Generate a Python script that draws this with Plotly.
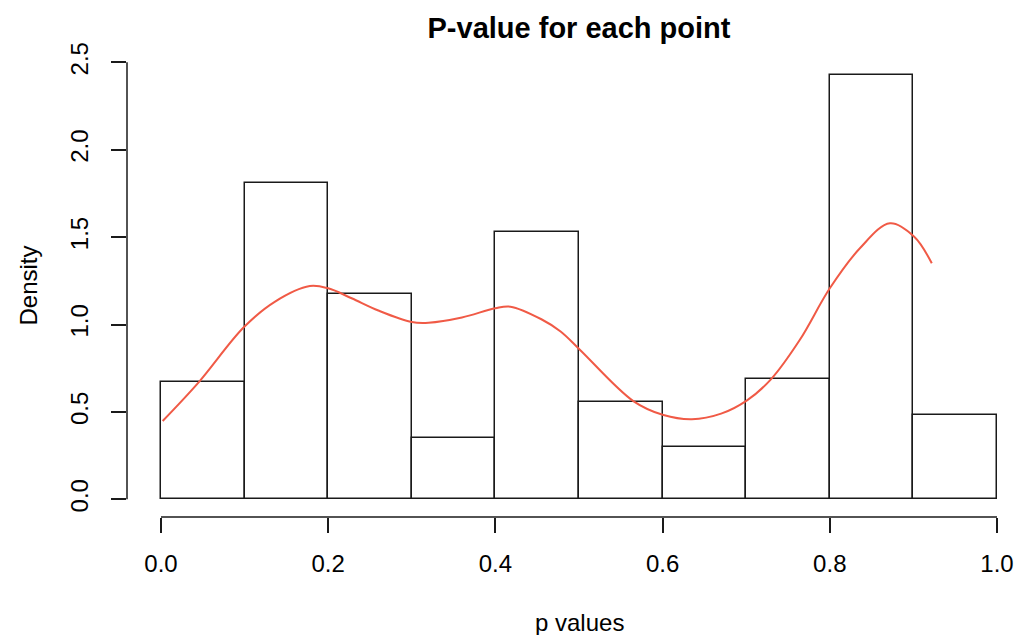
import plotly.graph_objects as go

# Histogram bins (p-value intervals) and their densities
bin_left = [0.0, 0.1, 0.2, 0.3, 0.4, 0.5, 0.6, 0.7, 0.8, 0.9]
bin_width = 0.1
density = [0.669, 1.808, 1.175, 0.352, 1.527, 0.558, 0.297, 0.688, 2.427, 0.482]

# Kernel density estimate curve (x, y)
kde_x = [0.002, 0.045, 0.099, 0.136, 0.178, 0.200, 0.228, 0.260, 0.300, 0.320,
         0.360, 0.400, 0.418, 0.455, 0.478, 0.501, 0.565, 0.601, 0.635, 0.670,
         0.701, 0.729, 0.764, 0.800, 0.836, 0.872, 0.901, 0.922]
kde_y = [0.448, 0.669, 0.984, 1.130, 1.220, 1.207, 1.150, 1.080, 1.014, 1.010,
         1.040, 1.093, 1.102, 1.030, 0.960, 0.856, 0.562, 0.482, 0.458, 0.490,
         0.566, 0.683, 0.911, 1.207, 1.436, 1.579, 1.502, 1.350]

x_ticks = [0.0, 0.2, 0.4, 0.6, 0.8, 1.0]
x_tick_text = ["0.0", "0.2", "0.4", "0.6", "0.8", "1.0"]
y_ticks = [0.0, 0.5, 1.0, 1.5, 2.0, 2.5]
y_tick_text = ["0.0", "0.5", "1.0", "1.5", "2.0", "2.5"]

FONT = "Liberation Sans, Arial, Helvetica, sans-serif"
INK = "#1a1a1a"

W, H = 1018, 635
# plot area: from the detached y-axis line (left) to the detached x-axis line (bottom)
left, right, top, bottom = 127, 13, 54, 118
pw = W - left - right
ph = H - top - bottom

# pixel positions of the data limits, R-style (axes sit outside the data region)
X0_PX, X1_PX = 161, 997          # x = 0 and x = 1
Y0_PX, Y1_PX = 499.3, 62.3       # y = 0 and y = 2.5
XLAB_PX = 622                     # centre line of the x-axis label
X_LIM = (0.0, 1.0)
Y_LIM = (0.0, 2.5)
x_scale = (X1_PX - X0_PX) / (X_LIM[1] - X_LIM[0])
y_scale = (Y0_PX - Y1_PX) / (Y_LIM[1] - Y_LIM[0])

x_range = [X_LIM[0] + (left - X0_PX) / x_scale, X_LIM[0] + (W - right - X0_PX) / x_scale]
y_range = [Y_LIM[0] + (Y0_PX - (H - bottom)) / y_scale, Y_LIM[0] + (Y0_PX - top) / y_scale]

bin_centers = [b + bin_width / 2 for b in bin_left]

fig = go.Figure()
fig.add_trace(go.Bar(
    x=bin_centers,
    y=density,
    width=[bin_width] * len(bin_left),
    marker=dict(color="white", line=dict(color=INK, width=1.5)),
    hoverinfo="skip",
))
fig.add_trace(go.Scatter(
    x=kde_x,
    y=kde_y,
    mode="lines",
    line=dict(color="#F05A46", width=2, shape="spline", smoothing=1.0),
    hoverinfo="skip",
))

# axis lines covering only the data limits, as in base R graphics
fig.add_shape(type="line", xref="x", yref="paper",
              x0=X_LIM[0], x1=X_LIM[1], y0=0, y1=0,
              line=dict(color=INK, width=1.5), layer="above")
fig.add_shape(type="line", xref="paper", yref="y",
              x0=0, x1=0, y0=Y_LIM[0], y1=Y_LIM[1],
              line=dict(color=INK, width=1.5), layer="above")

# x-axis label, centred on the data limits
fig.add_annotation(
    text="p values",
    xref="x", x=(X_LIM[0] + X_LIM[1]) / 2,
    yref="paper", y=-(XLAB_PX - (H - bottom)) / ph,
    xanchor="center", yanchor="middle",
    showarrow=False,
    font=dict(family=FONT, size=24, color="black"),
)

axis_common = dict(
    automargin=False,
    showgrid=False,
    zeroline=False,
    showline=False,
    ticks="outside",
    ticklen=15,
    tickwidth=1.5,
    tickcolor=INK,
)

fig.update_layout(
    width=W,
    height=H,
    autosize=False,
    margin=dict(l=left, r=right, t=top, b=bottom, pad=0, autoexpand=False),
    paper_bgcolor="white",
    plot_bgcolor="white",
    showlegend=False,
    bargap=0,
    font=dict(family=FONT, size=24, color="black"),
    title=dict(
        text="<b>P-value for each point</b>",
        font=dict(family=FONT, size=29, color="black"),
        x=(X0_PX + X1_PX) / 2 / W,
        xanchor="center",
        y=1 - 28 / H,
        yanchor="middle",
        automargin=False,
    ),
    xaxis=dict(
        range=x_range,
        tickvals=x_ticks,
        ticktext=x_tick_text,
        ticklabelstandoff=10,
        **axis_common,
    ),
    yaxis=dict(
        range=y_range,
        tickvals=y_ticks,
        ticktext=y_tick_text,
        tickangle=-90,
        ticklabelstandoff=13,
        title=dict(text="Density", standoff=22, font=dict(size=24)),
        **axis_common,
    ),
)

fig.write_html("out.html")
